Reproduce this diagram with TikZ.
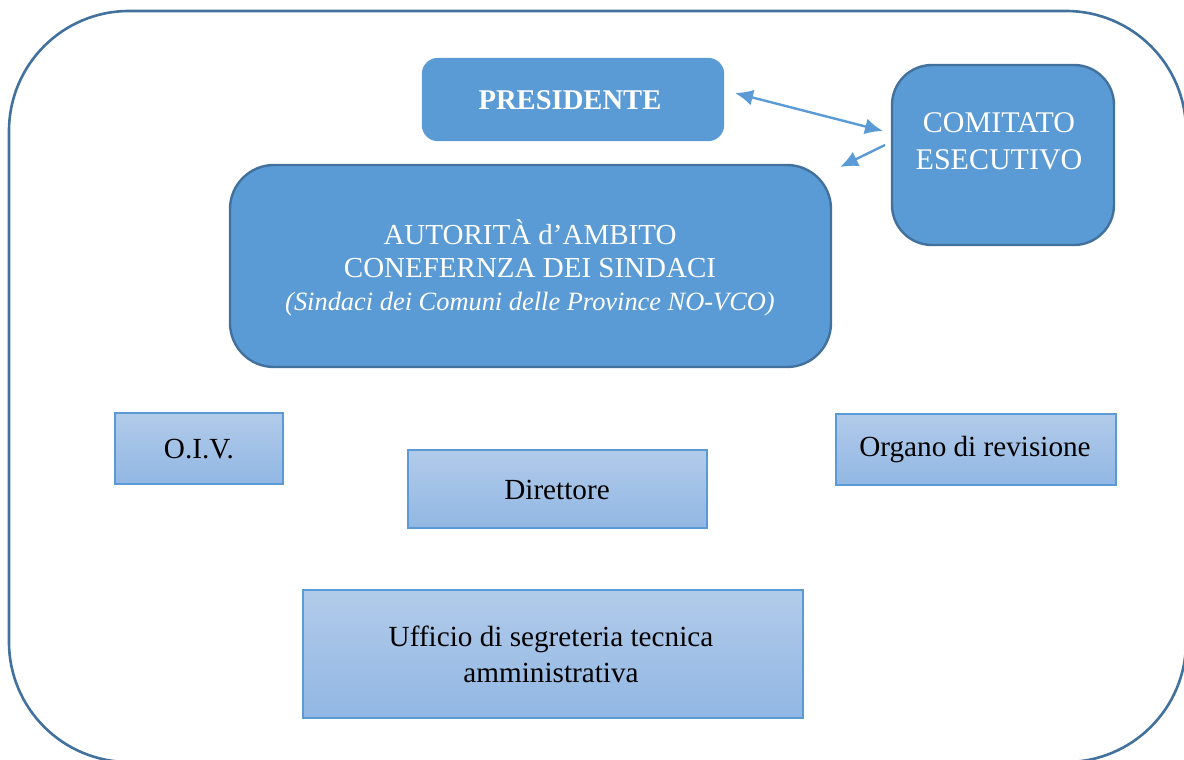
\documentclass[tikz,border=0pt]{standalone}
\usepackage{fontspec}
\setmainfont{Liberation Serif}
\usetikzlibrary{arrows.meta}
\definecolor{boxblue}{HTML}{5B9BD5}
\definecolor{darkblue}{HTML}{41719C}
\definecolor{gradtop}{HTML}{B2CBEA}
\definecolor{gradbot}{HTML}{91B7E3}
\begin{document}
\begin{tikzpicture}[x=0.5pt,y=-0.5pt,
  mainbox/.style={fill=boxblue, draw=darkblue, line width=1.2pt, inner sep=0pt},
  lightbox/.style={top color=gradtop, bottom color=gradbot, draw=boxblue, line width=0.6pt, inner sep=0pt},
  whitetxt/.style={text=white, align=center, inner sep=0pt, font=\fontsize{14.5}{16.5}\selectfont},
  blacktxt/.style={text=black, align=center, inner sep=0pt, font=\fontsize{14.6}{18}\selectfont},
  link/.style={draw=boxblue, line width=1.2pt}
]
\useasboundingbox (0,0) rectangle (1184,760);
\clip (0,0) rectangle (1184,760);

% outer frame
\draw[darkblue, line width=1.3pt, rounded corners=60pt] (9,11) rectangle (1186,762);

% boxes
\node[mainbox, draw=boxblue, rounded corners=7.5pt, minimum width=150pt, minimum height=40.5pt] (pres) at (573,99.5) {};
\node[whitetxt, font=\fontsize{14.3}{18}\selectfont\bfseries] (prestxt) at (570,100) {PRESIDENTE};

\node[mainbox, rounded corners=20pt, minimum width=111pt, minimum height=90pt] (comit) at (1003,155) {};
\node[whitetxt, font=\fontsize{15}{18.5}\selectfont] (comittxt) at (999,141) {COMITATO\\ESECUTIVO};

\node[mainbox, rounded corners=22pt, minimum width=300.5pt, minimum height=101pt] (aut) at (530.5,266) {};
\node[whitetxt] (auttxt) at (530,268) {AUTORITÀ d’AMBITO\\CONEFERNZA DEI SINDACI\\{\fontsize{13.2}{16.5}\selectfont\itshape (Sindaci dei Comuni delle Province NO-VCO)}};

\node[lightbox, minimum width=84pt, minimum height=35.5pt] (oiv) at (199,448.5) {};
\node[blacktxt] (oivtxt) at (199,449) {O.I.V.};

\node[lightbox, minimum width=149.5pt, minimum height=39pt] (dir) at (557.5,489) {};
\node[blacktxt] (dirtxt) at (557,490) {Direttore};

\node[lightbox, minimum width=140pt, minimum height=35.5pt] (org) at (976,449.5) {};
\node[blacktxt] (orgtxt) at (975,450) {Organo di revisione};

\node[lightbox, minimum width=250pt, minimum height=64pt] (uff) at (553,654) {};
\node[blacktxt] (ufftxt) at (551,654) {Ufficio di segreteria tecnica\\amministrativa};

% arrows
\coordinate (a1) at (735,93);
\coordinate (a2) at (883,131);
\coordinate (b1) at (885,145);
\coordinate (b2) at (840,167);
\draw[link, {Latex[length=9pt,width=8pt]}-{Latex[length=9pt,width=8pt]}] (a1) -- (a2);
\draw[link, -{Latex[length=9pt,width=8pt]}] (b1) -- (b2);
\end{tikzpicture}
\end{document}
